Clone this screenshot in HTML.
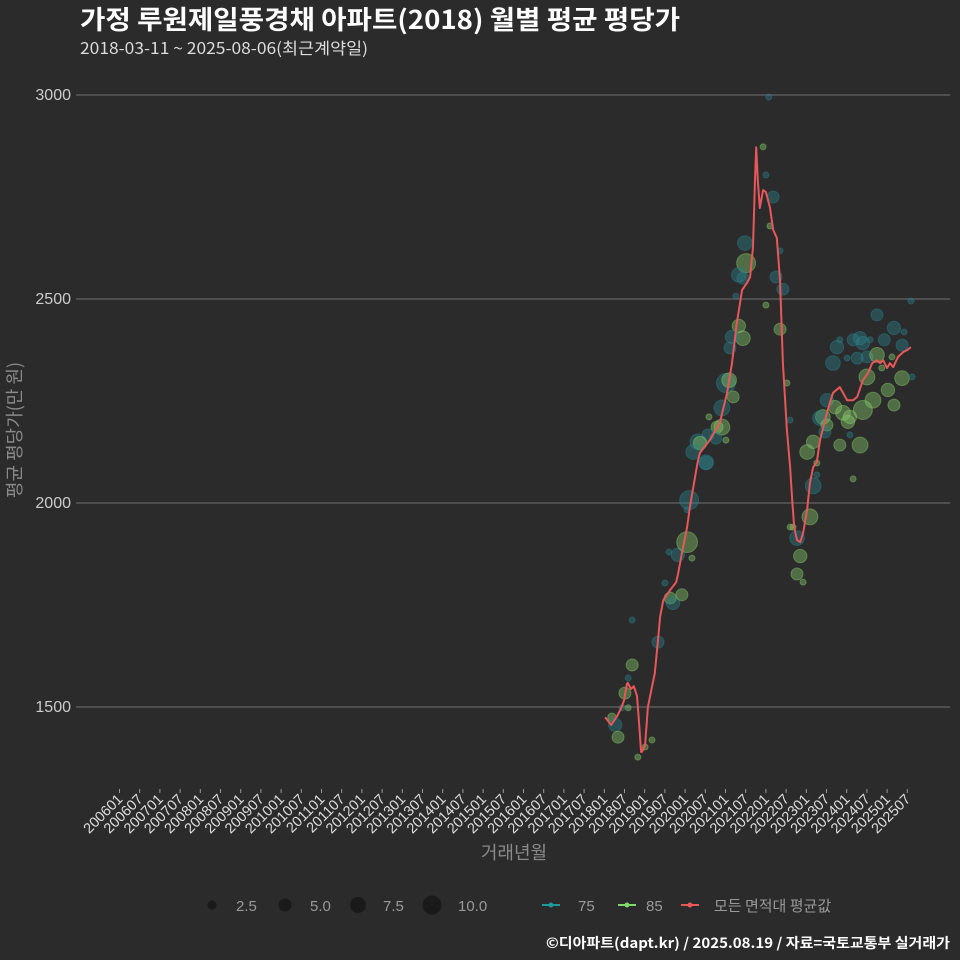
<!DOCTYPE html>
<html><head><meta charset="utf-8"><style>
html,body{margin:0;padding:0;background:#2b2b2b;}
svg{display:block;font-family:"Liberation Sans","Noto Sans CJK KR",sans-serif;}
</style></head><body>
<svg id="chart" width="960" height="960" viewBox="0 0 960 960" xmlns="http://www.w3.org/2000/svg">
<rect x="0" y="0" width="960" height="960" fill="#2b2b2b"/>
<text x="80" y="29" fill="#ffffff" font-size="26" font-weight="bold" font-family="'Noto Sans CJK KR',sans-serif" textLength="600" lengthAdjust="spacingAndGlyphs">가정 루원제일풍경채 아파트(2018) 월별 평균 평당가</text>
<text x="80" y="54" fill="#dddddd" font-size="16" font-family="'Noto Sans CJK KR',sans-serif" textLength="288" lengthAdjust="spacingAndGlyphs">2018-03-11 ~ 2025-08-06(최근계약일)</text>
<g id="grid"></g>
<g id="yaxis"></g>
<g id="xaxis"></g>
<g id="bubbles"></g>
<path id="avgline" fill="none" stroke="#e8575a" stroke-width="2" stroke-linejoin="round"/>
<text transform="translate(21,430) rotate(-90)" text-anchor="middle" fill="#8a8a8a" font-size="18" font-family="'Noto Sans CJK KR',sans-serif">평균 평당가(만 원)</text>
<text x="514" y="859" text-anchor="middle" fill="#8a8a8a" font-size="18" font-family="'Noto Sans CJK KR',sans-serif">거래년월</text>
<g font-size="15">
<circle cx="212" cy="905" r="4.5" fill="#1a1a1a"/>
<text x="236" y="911" fill="#999">2.5</text>
<circle cx="285" cy="905" r="6.5" fill="#1a1a1a"/>
<text x="310" y="911" fill="#999">5.0</text>
<circle cx="358" cy="905" r="8" fill="#1a1a1a"/>
<text x="383" y="911" fill="#999">7.5</text>
<circle cx="432" cy="905" r="9.5" fill="#1a1a1a"/>
<text x="458" y="911" fill="#999">10.0</text>
</g>
<g font-size="15">
<line x1="542" x2="560" y1="905" y2="905" stroke="#1f9a9a" stroke-width="2"/>
<circle cx="551" cy="905" r="2.5" fill="#1f9a9a"/>
<text x="578" y="911" fill="#999">75</text>
<line x1="618" x2="636" y1="905" y2="905" stroke="#7ed96b" stroke-width="2"/>
<circle cx="627" cy="905" r="2.5" fill="#7ed96b"/>
<text x="646" y="911" fill="#999">85</text>
<line x1="681" x2="699" y1="905" y2="905" stroke="#e8575a" stroke-width="2"/>
<circle cx="690" cy="905" r="2.5" fill="#e8575a"/>
<text x="714" y="911" fill="#999" font-family="'Noto Sans CJK KR',sans-serif">모든 면적대 평균값</text>
</g>
<text x="950" y="948" text-anchor="end" fill="#ffffff" font-size="14" font-weight="bold" font-family="'Noto Sans CJK KR',sans-serif" textLength="404" lengthAdjust="spacingAndGlyphs">©디아파트(dapt.kr) / 2025.08.19 / 자료=국토교통부 실거래가</text>
</svg>
<script>
const yTicks=[1500,2000,2500,3000];
const lineYears=[2018.02,2018.17,2018.32,2018.42,2018.49,2018.56,2018.58,2018.66,2018.73,2018.81,2018.86,2018.91,2018.93,2019.01,2019.08,2019.25,2019.33,2019.38,2019.46,2019.63,2019.78,2019.83,2019.92,2020.05,2020.12,2020.19,2020.32,2020.37,2020.61,2020.86,2021.04,2021.16,2021.28,2021.41,2021.53,2021.61,2021.68,2021.73,2021.76,2021.80,2021.85,2021.93,2022.00,2022.10,2022.18,2022.27,2022.35,2022.42,2022.52,2022.60,2022.65,2022.70,2022.77,2022.85,2022.92,2023.02,2023.09,2023.17,2023.26,2023.34,2023.51,2023.66,2023.83,2024.01,2024.16,2024.26,2024.40,2024.53,2024.63,2024.75,2024.83,2024.90,2025.00,2025.07,2025.15,2025.27,2025.40,2025.50,2025.59];
const lineValues=[1475,1456,1478,1498,1517,1556,1559,1544,1551,1527,1463,1390,1390,1407,1500,1583,1664,1721,1762,1787,1806,1828,1877,1941,1990,2032,2105,2123,2154,2196,2270,2343,2441,2522,2539,2554,2627,2792,2872,2792,2723,2767,2762,2725,2669,2650,2547,2343,2179,2088,2007,1941,1909,1904,1926,1983,2049,2088,2100,2154,2221,2270,2284,2252,2252,2260,2301,2319,2343,2350,2343,2350,2331,2343,2333,2358,2370,2375,2382];
const bubbleType=["g","t","g","g","t","g","g","t","g","g",
"g","t","t","t","g","t","g","t","t","g",
"g","t","t","t","g","t","g","t","t","g",
"g","g","g","g","g","t","t","g","t","t",
"g","t","t","t","g","t","t","g","g","g",
"t","t","t","g","g","t","g","g","g","g",
"t","t","t","g","t","t","g","t","t","t",
"t","t","t","t","t","t","t","t","t","t",
"t","t","g","t","t","g","g","g","g","t",
"g","g","g","g","t","g","g","g","t","g",
"g","g","t","t","g","g","g","g","g","t"];
const bubbleYears=[2018.19,2018.27,2018.34,2018.51,2018.59,2018.69,2018.59,2018.44,2018.83,2019.01,2019.18,2018.69,2019.33,2019.50,2019.63,2019.70,2019.92,2019.60,2019.82,2020.05,2020.17,2020.10,2020.05,2020.52,2024.16,2023.17,2023.09,2023.26,2022.77,2022.85,2022.77,2022.92,2022.60,2022.67,2021.93,2022.00,2022.18,2022.10,2022.35,2021.48,2021.51,2021.33,2021.43,2021.26,2022.00,2022.25,2022.42,2022.35,2021.33,2021.43,2021.16,2021.11,2021.01,2021.09,2021.19,2020.91,2020.91,2020.79,2020.59,2021.01,2020.57,2020.76,2020.32,2020.37,2020.20,2020.52,2022.52,2022.60,2024.75,2025.17,2025.42,2025.59,2024.93,2025.37,2023.76,2023.83,2024.16,2024.33,2024.40,2024.58,2024.26,2024.50,2024.75,2024.01,2023.66,2025.12,2024.87,2024.50,2025.37,2025.62,2025.02,2024.65,2024.40,2025.17,2023.51,2023.71,2023.91,2023.41,2023.34,2024.08,2024.03,2023.51,2023.46,2024.08,2023.17,2023.83,2024.33,2023.02,2023.26,2022.07];
const bubbleValues=[1475,1456,1426,1534,1571,1603,1498,1498,1377,1402,1419,1713,1659,1804,1767,1755,1775,1880,1873,1904,1865,2007,1983,2098,2059,2042,1966,2069,1914,1870,1826,1806,1941,1941,2873,2804,2750,2679,2618,2637,2588,2559,2551,2507,2485,2554,2524,2426,2434,2404,2407,2380,2294,2301,2260,2233,2186,2186,2211,2154,2167,2159,2150,2147,2125,2100,2294,2203,2461,2429,2419,2495,2400,2387,2382,2400,2400,2404,2392,2400,2355,2358,2363,2355,2343,2358,2331,2309,2306,2309,2277,2252,2228,2240,2252,2235,2221,2211,2208,2211,2199,2191,2174,2167,2150,2142,2142,2125,2098,2995];
const bubbleCounts=[2,5,4,4,1,4,1,1,1,1,1,1,4,1,4,5,4,1,5,12,1,10,1,5,1,7,7,1,6,5,4,1,1,1,1,1,4,1,1,6,10,6,4,1,1,4,4,4,5,6,5,4,10,6,4,7,7,4,1,1,4,4,7,5,6,6,1,1,4,5,1,1,4,4,5,1,4,5,5,1,4,4,6,1,6,1,1,7,6,1,5,7,10,4,5,5,6,6,6,5,5,4,4,1,5,4,7,6,1,1];
const xTickStart=2006, xTickCount=40;

const NS="http://www.w3.org/2000/svg";
function xs(year){return 119.5+(year-2006)*40.4;}
function ys(v){return 707-(v-1500)*0.408;}
function mk(tag,attrs,parent){const e=document.createElementNS(NS,tag);for(const k in attrs)e.setAttribute(k,attrs[k]);parent.appendChild(e);return e;}

const grid=document.getElementById('grid'), yaxis=document.getElementById('yaxis'), xaxis=document.getElementById('xaxis');
yTicks.forEach(v=>{
  const l=mk('line',{x1:76,x2:950,y1:ys(v),y2:ys(v),stroke:'#5a5a5a','stroke-width':1.5},grid);
  
  
  const t=mk('text',{x:71,y:ys(v)+5,'text-anchor':'end',fill:'#cccccc','font-size':16},yaxis);
  
  
  t.textContent=v;
});
for(let i=0;i<xTickCount;i++){
  const yr=xTickStart+Math.floor(i/2), mo=(i%2)?7:1;
  const x=xs(yr+(mo-1)/12);
  const tk=mk('line',{x1:x,x2:x,y1:789,y2:793,stroke:'#999','stroke-width':1},xaxis);
  
  
  const t=mk('text',{transform:`translate(${x+4},${800}) rotate(-45)`,'text-anchor':'end',fill:'#dddddd','font-size':14.5},xaxis);
  
  
  t.textContent=yr+(mo<10?'0':'')+mo;
}
const bg=document.getElementById('bubbles');
bubbleYears.forEach((yr,i)=>{
  const teal=bubbleType[i]==='t';
  const col=teal?'#2a7f88':'#86c96a';
  const c=mk('circle',{cx:xs(yr),cy:ys(bubbleValues[i]),r:3*Math.sqrt(bubbleCounts[i]),
    fill:col,'fill-opacity':0.42,stroke:col,'stroke-opacity':0.45,'stroke-width':1},bg);
  
  
});
let d='';
lineYears.forEach((yr,i)=>{d+=(i?'L':'M')+xs(yr).toFixed(1)+','+ys(lineValues[i]).toFixed(1);});
document.getElementById('avgline').setAttribute('d',d);
</script>
</body></html>
